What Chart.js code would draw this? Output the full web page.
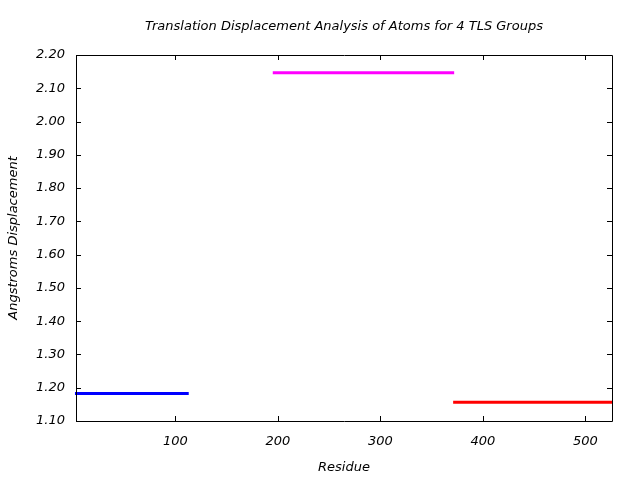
<!DOCTYPE html>
<html><head><meta charset="utf-8">
<script src="https://cdn.jsdelivr.net/npm/chart.js@4/dist/chart.umd.min.js"></script>
<style>html,body{margin:0;padding:0;background:#fff}#wrap{width:640px;height:480px}</style>
</head><body><div id="wrap"><canvas id="c" width="640" height="480"></canvas></div>
<script>
const titleText = "Translation Displacement Analysis of Atoms for 4 TLS Groups";
const xTitle = "Residue";
const yTitle = "Angstroms Displacement";
const xTicks = [100, 200, 300, 400, 500];
const yTicks = [1.10, 1.20, 1.30, 1.40, 1.50, 1.60, 1.70, 1.80, 1.90, 2.00, 2.10, 2.20];
const xRange = [3, 526];
const yRange = [1.10, 2.20];
const groupNames = ["TLS 1", "TLS 2", "TLS 3"];
const groupStart = [2, 195, 371];
const groupEnd = [113, 372, 526];
const groupValue = [1.183, 2.147, 1.156];
const groupColor = ["#0000ff", "#ff00ff", "#ff0000"];

const FONT = {family: "'DejaVu Sans'", size: 13, style: "italic"};

const datasets = groupNames.map((n, i) => ({
  label: n,
  data: [{x: groupStart[i], y: groupValue[i]}, {x: groupEnd[i], y: groupValue[i]}],
  borderColor: groupColor[i],
  backgroundColor: groupColor[i],
  borderWidth: 3,
  pointRadius: 0,
  borderCapStyle: 'butt',
  clip: false,
  tension: 0
}));

const framePlugin = {
  id: 'frame',
  afterDraw(chart) {
    const ctx = chart.ctx, a = chart.chartArea;
    const xs = chart.scales.x, ys = chart.scales.y;
    ctx.save();
    ctx.strokeStyle = '#000';
    ctx.lineWidth = 1;
    ctx.beginPath();
    ctx.rect(Math.round(a.left) + 0.5, Math.round(a.top) + 0.5, Math.round(a.right - a.left), Math.round(a.bottom - a.top));
    const tl = 5;
    xTicks.forEach(v => {
      const px = Math.round(xs.getPixelForValue(v)) + 0.5;
      ctx.moveTo(px, a.bottom); ctx.lineTo(px, a.bottom - tl);
      ctx.moveTo(px, a.top); ctx.lineTo(px, a.top + tl);
    });
    yTicks.forEach(v => {
      const py = Math.round(ys.getPixelForValue(v)) + 0.5;
      ctx.moveTo(a.left, py); ctx.lineTo(a.left + tl, py);
      ctx.moveTo(a.right, py); ctx.lineTo(a.right - tl, py);
    });
    ctx.stroke();
    ctx.fillStyle = '#000';
    ctx.font = "italic 13px 'DejaVu Sans'";
    ctx.textAlign = 'center';
    ctx.textBaseline = 'middle';
    ctx.fillText(titleText, (a.left + a.right) / 2, 27);
    ctx.restore();
  }
};

new Chart(document.getElementById('c'), {
  type: 'line',
  data: {datasets},
  plugins: [framePlugin],
  options: {
    responsive: false,
    animation: false,
    layout: {padding: {left: 0, right: 28, top: 55, bottom: 0}},
    plugins: {legend: {display: false}, title: {display: false}, tooltip: {enabled: false}},
    scales: {
      x: {
        type: 'linear', min: xRange[0], max: xRange[1],
        grid: {display: false, drawTicks: false},
        border: {display: false},
        afterBuildTicks: s => { s.ticks = xTicks.map(v => ({value: v})); },
        afterFit: s => { s.height = 59; },
        ticks: {color: '#000', font: FONT, padding: 13, maxRotation: 0, autoSkip: false, callback: v => String(v)},
        title: {display: true, text: xTitle, color: '#000', font: FONT, padding: {top: 0, bottom: 5}}
      },
      y: {
        type: 'linear', min: yRange[0], max: yRange[1],
        grid: {display: false, drawTicks: false},
        border: {display: false},
        afterBuildTicks: s => { s.ticks = yTicks.map(v => ({value: v})); },
        afterFit: s => { s.width = 76; },
        ticks: {color: '#000', font: FONT, padding: 11, autoSkip: false, callback: v => Number(v).toFixed(2)},
        title: {display: true, text: yTitle, color: '#000', font: FONT, padding: {top: 6, bottom: 0}}
      }
    }
  }
});
</script>
</body></html>
